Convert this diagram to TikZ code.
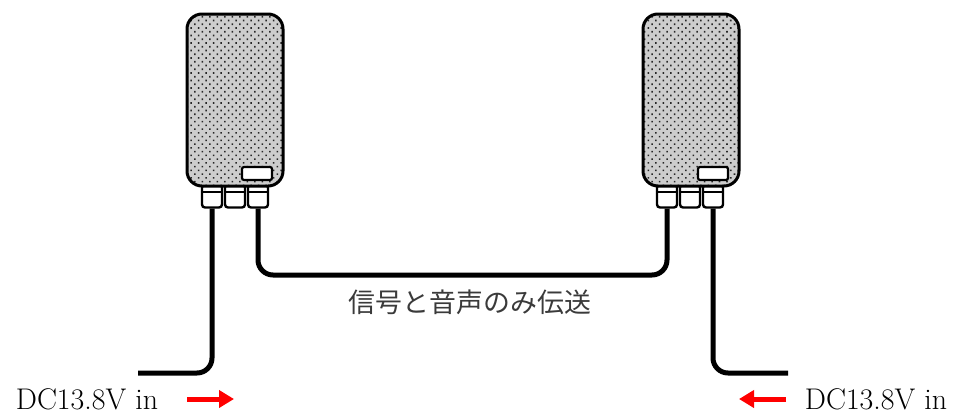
\documentclass[tikz,border=0pt]{standalone}
\usepackage{fontspec}
\newfontfamily\cjk{Noto Sans CJK JP}
\usetikzlibrary{arrows.meta,patterns.meta}
\definecolor{bodygray}{HTML}{CDCDCD}
\definecolor{labelgray}{HTML}{3A3A3A}
\tikzset{
  unit/.style={draw, line width=3bp, rounded corners=15bp,
    minimum width=96bp, minimum height=172bp, inner sep=0pt,
    preaction={fill=bodygray},
    pattern={Dots[distance=5.3bp, angle=45, radius=1.15bp]}, pattern color=black!85},
  port/.style={draw, fill=white, line width=2.4bp, rounded corners=3bp,
    minimum width=20bp, minimum height=23bp, inner sep=0pt},
  window/.style={draw, fill=white, line width=2.2bp, rounded corners=2bp,
    minimum width=30bp, minimum height=13bp, inner sep=0pt},
  cable/.style={line width=5bp, rounded corners=15bp},
  feed/.style={draw=red, line width=5bp, -{Triangle[length=15bp,width=17bp]}},
  dctext/.style={font=\fontsize{30}{32}\selectfont, anchor=base, inner sep=0pt},
}
\begin{document}
\begin{tikzpicture}[x=1bp,y=-1bp]
\useasboundingbox (0,0) rectangle (956,414);

% ports under the left unit
\node[port] (pL1) at (212,196) {};
\node[port] (pL2) at (235,196) {};
\node[port] (pL3) at (258,196) {};
% ports under the right unit
\node[port] (pR1) at (667,196) {};
\node[port] (pR2) at (690,196) {};
\node[port] (pR3) at (713,196) {};
\foreach \p in {pL1,pL2,pL3,pR1,pR2,pR3}
  \draw[line width=2bp] ([yshift=-9bp]\p.north west) -- ([yshift=-9bp]\p.north east);

% the two units
\node[unit] (uL) at (235,100) {};
\node[unit] (uR) at (691,100) {};
\node[window] (wL) at (257,173.5) {};
\node[window] (wR) at (713,173.5) {};

% cables
\coordinate (endL) at (138,373);
\coordinate (endR) at (788,373);
\coordinate (mid) at (460,275);
\draw[cable] (pL1.south) |- (endL);
\draw[cable] (pR3.south) |- (endR);
\draw[cable] (pL3.south) |- (mid) -| (pR1.south);

\node[font=\cjk\fontsize{27}{30}\selectfont, text=labelgray] (sig) at (470,302) {信号と音声のみ伝送};

% supply inputs
\node[dctext] (dcL) at (87,409) {DC13.8V in};
\node[dctext] (dcR) at (876,409) {DC13.8V in};
\coordinate (aL0) at (187,399);
\coordinate (aL1) at (234,399);
\coordinate (aR0) at (786,399);
\coordinate (aR1) at (739,399);
\draw[feed] (aL0) -- (aL1);
\draw[feed] (aR0) -- (aR1);
\end{tikzpicture}
\end{document}
